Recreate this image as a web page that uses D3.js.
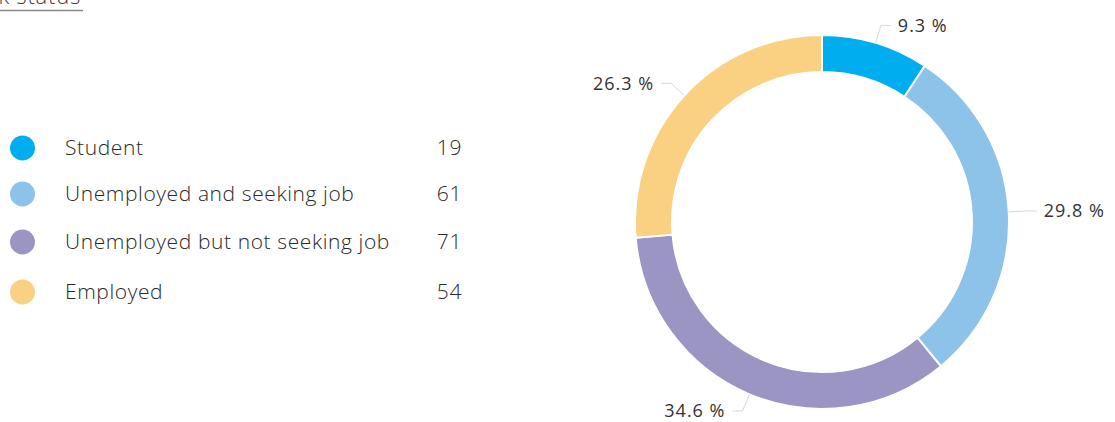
<!DOCTYPE html>
<html>
<head>
<meta charset="utf-8">
<script src="https://cdn.jsdelivr.net/npm/d3@7"></script>
<style>
  html, body { margin: 0; padding: 0; background: #fff; }
  #chart { width: 1115px; height: 422px; overflow: hidden; }
</style>
</head>
<body>
<div id="chart"></div>
<script>
const categories = ["Student", "Unemployed and seeking job", "Unemployed but not seeking job", "Employed"];
const counts = [19, 61, 71, 54];
const colors = ["#00aeef", "#8dc3e8", "#9b95c4", "#fad082"];
const titleText = "Work status";

const width = 1115, height = 422;
const legendFont = "'Open Sans', sans-serif";

const svg = d3.select("#chart").append("svg")
  .attr("width", width)
  .attr("height", height)
  .style("display", "block");

// Title (cropped at the top-left like the reference)
svg.append("text")
  .attr("x", 81)
  .attr("y", 4)
  .attr("text-anchor", "end")
  .attr("font-family", legendFont)
  .attr("font-weight", 300)
  .attr("font-size", 22)
  .attr("letter-spacing", 0.8)
  .attr("fill", "#444")
  .text(titleText);

svg.append("line")
  .attr("x1", 0).attr("x2", 83)
  .attr("y1", 10.5).attr("y2", 10.5)
  .attr("stroke", "#888")
  .attr("stroke-width", 1.5);

// Legend
const legendY = [148, 194, 242, 292];

const legend = svg.append("g").attr("class", "legend");
const items = legend.selectAll("g")
  .data(categories.map((c, i) => ({ name: c, value: counts[i], color: colors[i], y: legendY[i] })))
  .enter().append("g")
  .attr("transform", d => `translate(0,${d.y})`);

items.append("circle")
  .attr("cx", 22.5)
  .attr("cy", 0)
  .attr("r", 12.5)
  .attr("fill", d => d.color);

items.append("text")
  .attr("x", 65)
  .attr("dy", "0.35em")
  .attr("font-family", legendFont)
  .attr("font-weight", 300)
  .attr("font-size", 21)
  .attr("letter-spacing", 0.6)
  .attr("fill", "#2a2a2a")
  .text(d => d.name);

items.append("text")
  .attr("x", 462)
  .attr("dy", "0.35em")
  .attr("text-anchor", "end")
  .attr("font-family", legendFont)
  .attr("font-weight", 300)
  .attr("font-size", 21)
  .attr("letter-spacing", 0.6)
  .attr("fill", "#2a2a2a")
  .text(d => d.value);

// Donut
const cx = 822, cy = 222;
const outerR = 187, innerR = 150;
const total = d3.sum(counts);

const pie = d3.pie().sort(null).value(d => d);
const arcs = pie(counts);
const arc = d3.arc().innerRadius(innerR).outerRadius(outerR);

const donut = svg.append("g").attr("transform", `translate(${cx},${cy})`);

donut.selectAll("path")
  .data(arcs)
  .enter().append("path")
  .attr("d", arc)
  .attr("fill", (d, i) => colors[i])
  .attr("stroke", "#fff")
  .attr("stroke-width", 2);

// Leader lines and labels
const elbowR = outerR + 18;
const pt = (a, r) => [r * Math.sin(a), -r * Math.cos(a)];

arcs.forEach((d, i) => {
  const mid = (d.startAngle + d.endAngle) / 2;
  const p0 = pt(mid, outerR);
  const p1 = pt(mid, elbowR);
  const right = Math.sin(mid) >= 0;
  const p2 = [p1[0] + (right ? 10 : -10), p1[1]];

  donut.append("polyline")
    .attr("points", [p0, p1, p2].map(p => p.join(",")).join(" "))
    .attr("fill", "none")
    .attr("stroke", "#d6d6d6")
    .attr("stroke-width", 1);

  donut.append("text")
    .attr("x", p2[0] + (right ? 7 : -7))
    .attr("y", p2[1])
    .attr("dy", "0.35em")
    .attr("text-anchor", right ? "start" : "end")
    .attr("font-family", legendFont)
    .attr("font-weight", 400)
    .attr("font-size", 18)
    .attr("letter-spacing", 1)
    .attr("fill", "#333")
    .text((counts[i] / total * 100).toFixed(1) + " %");
});
</script>
</body>
</html>
